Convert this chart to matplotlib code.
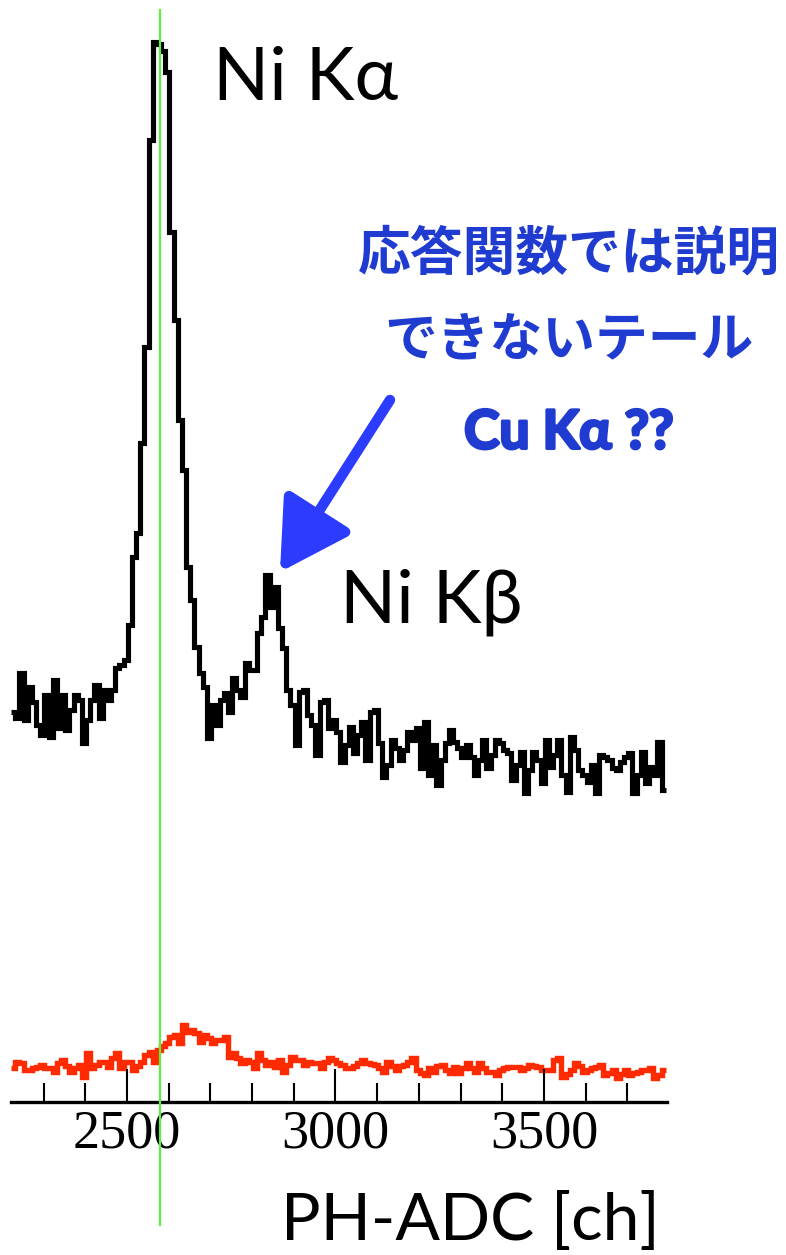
import numpy as np
import matplotlib
matplotlib.use("Agg")
import matplotlib.pyplot as plt
import matplotlib.patheffects as pe
from matplotlib.ticker import MultipleLocator, FixedLocator

# PH-ADC spectrum, 10 ch bins starting at 2222 ch
bin_start = 2222
bin_width = 10

# Ni target spectrum (counts per bin)
ni_counts = [
    390, 384, 429, 382, 415, 400, 377, 367, 407, 365, 422, 374, 407, 372, 392, 407,
    402, 359, 382, 402, 417, 384, 412, 402, 412, 434,
    437, 442, 477, 545, 569, 659, 755, 962, 1060, 1058, 1051, 1030, 870, 782, 682,
    632, 535, 502, 455, 429, 415, 364,
    397, 377, 402, 409, 390, 424, 412, 405, 439, 432, 432, 469, 485, 527, 495, 515,
    474, 454, 412, 397, 357, 410, 412, 387, 377, 347, 400, 402,
    374, 382, 370, 340, 357, 375, 349, 367, 380, 342, 390, 392, 359, 325, 337, 362,
    354, 342, 352, 370, 362, 374, 334, 380, 327, 357, 317, 342, 359, 372, 360, 354,
    345, 357, 345, 327, 342, 362, 334, 347, 362, 359, 352, 349, 322, 337, 350, 309,
    332, 350, 342, 319, 362, 335, 347, 362, 327, 310, 365, 352, 332, 327, 320, 337,
    309, 347, 345, 342, 334, 332, 340, 345, 349, 309, 327, 350, 319, 335, 327, 360,
    312,
]

# second run, low-rate spectrum (counts per bin)
bg_counts = [
    34, 40, 39, 32, 32, 34, 35, 37, 34, 34, 30, 39, 42, 36, 30, 34, 37, 25, 49, 34,
    37, 40, 40, 35, 44, 49, 34, 40, 40, 32, 36, 40, 47, 50, 40, 52, 56, 59, 65, 67,
    59, 77, 70, 72, 69, 60, 67, 64, 59, 62, 62, 65, 45, 49, 44, 39, 42, 40, 34, 49,
    42, 37, 40, 35, 42, 30, 37, 45, 42, 42, 37, 40, 39, 39, 34, 40, 44,
    42, 39, 37, 34, 34, 36, 39, 42, 39, 38, 37, 34, 30, 40, 36, 32, 36, 37, 40, 44,
    32, 29, 27, 34, 30, 36, 37, 32, 29, 35, 29, 34, 39, 34, 30, 39, 34, 30, 30, 27,
    32, 34, 35, 35, 35, 32, 34, 37, 36, 35, 32, 32, 32, 42, 44, 25, 28, 32, 39, 36,
    30, 32, 34, 35, 37, 27, 29, 32, 24, 28, 32, 27, 29, 30, 32, 32, 34, 24, 27, 32,
]

ni_ka_ch = 2579
tick_major = [2500, 3000, 3500]

edges = bin_start + bin_width * np.arange(len(ni_counts) + 1)

W, H = 786, 1255
fig = plt.figure(figsize=(W / 100, H / 100), dpi=100)
ax = fig.add_axes([11 / W, 1 - 1102 / H, 656 / W, 1102 / H])

ax.stairs(ni_counts, edges, baseline=None, color="black", linewidth=3.7, clip_on=False)
ax.stairs(bg_counts, edges, baseline=None, color="#ff2a00", linewidth=3.9, clip_on=False)

ax.axvline(ni_ka_ch, ymin=-0.112, ymax=0.991, color="#5cf03a", linewidth=1.6,
           clip_on=False, zorder=5)

ax.set_xlim(2222, 3795)
ax.set_ylim(0, 1102)

for s in ["left", "top", "right"]:
    ax.spines[s].set_visible(False)
ax.spines["bottom"].set_linewidth(2.4)
ax.set_yticks([])

ax.xaxis.set_major_locator(FixedLocator(tick_major))
ax.xaxis.set_minor_locator(MultipleLocator(100))
ax.tick_params(axis="x", which="major", direction="in", length=24, width=1.5, pad=5)
ax.tick_params(axis="x", which="minor", direction="in", length=13.5, width=1.5)
ax.set_xticklabels([str(t) for t in tick_major], family="Liberation Serif", fontsize=39)

sans = ["Lato", "DejaVu Sans"]
fig.text(213 / W, 1 - 100 / H, "Ni Kα", family=sans, fontsize=53, va="baseline")
fig.text(340 / W, 1 - 622 / H, "Ni Kβ", family=sans, fontsize=53, va="baseline")
fig.text(660 / W, 1 - 1240 / H, "PH-ADC [ch]", family=sans, fontsize=47.5,
         ha="right", va="baseline")

blue = "#1f3bd0"
jp = ["Noto Sans CJK JP", "DejaVu Sans"]
fig.text(569 / W, 1 - 254 / H, "応答関数では説明", family=jp, fontsize=38,
         fontweight="bold", color=blue, ha="center", va="center")
fig.text(569 / W, 1 - 340 / H, "できないテール", family=jp, fontsize=38,
         fontweight="bold", color=blue, ha="center", va="center")
fig.text(569 / W, 1 - 433 / H, "Cu Kα ??", family=sans, fontsize=38.5,
         fontweight="bold", color=blue, ha="center", va="center",
         path_effects=[pe.withStroke(linewidth=2.2, foreground=blue)])

ax.annotate("", xy=(280 / W, 1 - 572 / H), xytext=(390 / W, 1 - 400 / H),
            xycoords="figure fraction", textcoords="figure fraction",
            arrowprops=dict(arrowstyle="-|>,head_length=1.05,head_width=0.6",
                            color="#2b3cff", lw=7.5, mutation_scale=40,
                            shrinkA=0, shrinkB=0))

fig.savefig("out.png", dpi=100)
